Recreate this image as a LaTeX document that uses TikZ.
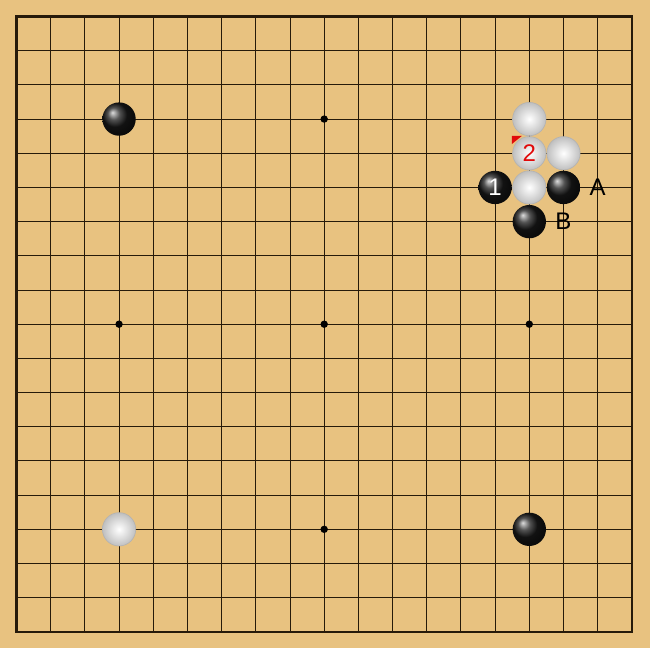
\documentclass[tikz,border=0pt]{standalone}
\usepackage{fontspec}
\setmainfont{Liberation Sans}
\definecolor{wood}{RGB}{232,194,128}
\definecolor{gridline}{RGB}{38,26,10}
\definecolor{marker}{RGB}{225,10,10}
\tikzset{bstone/.style = {circle, inner sep=0pt, minimum size=0.585cm, shading=ball, ball color=black!90, text=white, font=\fontsize{12}{14}\selectfont},
         wstone/.style = {circle, inner sep=0pt, minimum size=0.585cm, draw=black!30, line width=0.3pt, inner color=white, outer color=black!25, text=marker, font=\fontsize{12}{14}\selectfont},
         mark label/.style = {inner sep=0pt, font=\fontsize{12}{14}\selectfont},
         hoshi/.style = {circle, fill=black, inner sep=0pt, minimum size=0.13cm}}
\begin{document}
\begin{tikzpicture}[x=0.6cm, y=-0.6cm]
    \useasboundingbox[fill=wood] (-0.4826,-0.4826) rectangle (18.53,18.47);
    \foreach \i in {1,...,17}{
        \draw[gridline, line width=0.5pt](\i,0)--(\i,18);
        \draw[gridline, line width=0.5pt](0,\i)--(18,\i);
    }
    \draw[gridline, line width=1.1pt] (0,0) rectangle (18,18);
    \node[hoshi](s1)at(9,3){};
    \node[hoshi](s2)at(3,9){};
    \node[hoshi](s3)at(9,9){};
    \node[hoshi](s4)at(15,9){};
    \node[hoshi](s5)at(9,15){};
    \node[bstone](b1)at(3,3){};
    \node[wstone](w1)at(3,15){};
    \node[bstone](b2)at(15,15){};
    \node[wstone](w2)at(15,3){};
    \node[wstone](w3)at(15,4){2};
    \node[wstone](w4)at(16,4){};
    \node[bstone](m1)at(14,5){1};
    \node[wstone](w5)at(15,5){};
    \node[bstone](b3)at(16,5){};
    \node[bstone](b4)at(15,6){};
    \node[mark label](a)at(17,5){A};
    \node[mark label](b)at(16,6){B};
    \fill[marker](14.49,3.495)--(14.78,3.495)--(14.49,3.73)--cycle;
\end{tikzpicture}
\end{document}
